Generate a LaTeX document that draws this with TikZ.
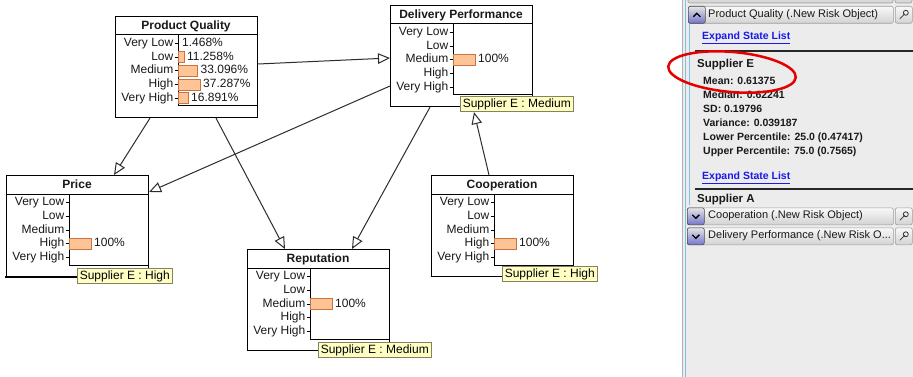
\documentclass[tikz,border=0pt]{standalone}
\usepackage{fontspec}
\setmainfont{Liberation Sans}
\usetikzlibrary{arrows.meta,calc}
\definecolor{barfill}{RGB}{255,196,150}
\definecolor{bardraw}{RGB}{200,115,65}
\definecolor{tipfill}{RGB}{255,255,196}
\definecolor{tipdraw}{RGB}{130,130,95}
\definecolor{panelbg}{RGB}{236,236,236}
\definecolor{linkblue}{RGB}{25,25,235}
\definecolor{edgecol}{RGB}{45,45,45}
\definecolor{panelblue}{RGB}{125,195,228}
\definecolor{txtdark}{RGB}{25,25,25}
\tikzset{
 box/.style={draw=black, line width=1.1pt, fill=white, minimum width=142pt, minimum height=101pt, inner sep=0pt, anchor=north west},
 boxline/.style={draw=black, line width=1pt},
 titletxt/.style={font=\fontsize{12}{14}\selectfont\bfseries, inner sep=0pt, text=txtdark, text height=9pt, text depth=2.5pt},
 statetxt/.style={font=\fontsize{12}{14}\selectfont, inner sep=0pt, anchor=east, text=txtdark, text height=8.7pt, text depth=2.5pt},
 pcttxt/.style={font=\fontsize{12}{14}\selectfont, inner sep=0pt, anchor=west, text=txtdark, text height=8.7pt, text depth=2.5pt},
 barbox/.style={fill=barfill, draw=bardraw, line width=0.8pt},
 tickline/.style={draw=black, line width=0.8pt},
 tiplabel/.style={fill=tipfill, draw=tipdraw, line width=0.6pt, font=\fontsize{12}{14}\selectfont, inner xsep=2.5pt, inner ysep=0pt, minimum height=15pt, anchor=north west, text height=9pt, text depth=2.5pt},
 link/.style={draw=edgecol, line width=1pt, -{Triangle[open, length=12pt, width=10.5pt, fill=white]}},
 headbar/.style={draw=gray!75, rounded corners=2pt, top color=white!95!gray, bottom color=gray!35, line width=0.6pt},
 headbtn/.style={draw=gray!60!black, rounded corners=2pt, top color=gray!20, bottom color=gray!55!blue!75!white, line width=0.6pt},
 headtxt/.style={font=\fontsize{11}{13}\selectfont, inner sep=0pt, anchor=west, text=txtdark},
 paneltxt/.style={font=\fontsize{10.5}{12}\selectfont\bfseries, inner sep=0pt, anchor=west, text=txtdark},
 linktxt/.style={font=\fontsize{10.5}{12}\selectfont\bfseries, inner sep=0pt, anchor=west, text=linkblue},
}
\newcommand{\bnframe}[2]{%
 \begin{scope}[shift={(#1.north west)}]
  \node[titletxt] at (71,10) {#2};
  \draw[boxline] (0,19) -- (142,19);
  \draw[boxline] (63,19) -- (63,90) -- (142,90);
  \foreach \s [count=\i from 0] in {Very Low,Low,Medium,High,Very High} {
    \node[statetxt] at (58.5,{27.5+13.7*\i}) {\s};
    \draw[tickline] (59.5,{27.5+13.7*\i}) -- (63,{27.5+13.7*\i});
  }
 \end{scope}}
\newcommand{\bnbar}[4]{%
 \begin{scope}[shift={(#1.north west)}]
  \draw[barbox] (63,{27.5+13.7*#2-5.5}) rectangle ++(#3,11);
  \node[pcttxt] at ({63+#3+3},{27.5+13.7*#2}) {#4};
 \end{scope}}
\begin{document}
\begin{tikzpicture}[x=1pt,y=-1pt]
\useasboundingbox (0,0) rectangle (913,377);
\fill[white] (0,0) rectangle (913,377);

% ---------- network nodes ----------
\node[box] (pq) at (115,16) {};
\node[box] (del) at (390,5) {};
\node[box] (price) at (6,175) {};
\node[box] (rep) at (247,249) {};
\node[box] (coop) at (431,175) {};

% ---------- connectors ----------
\draw[link] ($(pq.north east)+(0,48)$) -- ($(del.north west)+(0,53)$);
\draw[link] ($(pq.south west)+(35,0)$) -- ($(price.north west)+(108,0)$);
\draw[link] ($(pq.south west)+(101,0)$) -- ($(rep.north west)+(38,0)$);
\draw[link] ($(del.north west)+(0,81)$) -- ($(price.north east)+(0,17)$);
\draw[link] ($(del.south west)+(40,0)$) -- ($(rep.north west)+(105,0)$);

% redraw boxes above connectors
\node[box] at (pq.north west) {};
\node[box] at (del.north west) {};
\node[box] at (price.north west) {};
\node[box] at (rep.north west) {};
\node[box] at (coop.north west) {};
\draw[black, line width=2.6pt] ($(price.south west)+(-1,0)$) -- ($(price.south east)+(0,0)$);

\bnframe{pq}{Product Quality}
\bnframe{del}{Delivery Performance}
\bnframe{price}{Price}
\bnframe{rep}{Reputation}
\bnframe{coop}{Cooperation}

\begin{scope}[shift={(pq.north west)}]
  \node[pcttxt] at (67,27.5) {1.468\%};
\end{scope}
\bnbar{pq}{1}{6}{11.258\%}
\bnbar{pq}{2}{19.5}{33.096\%}
\bnbar{pq}{3}{22}{37.287\%}
\bnbar{pq}{4}{10}{16.891\%}
\bnbar{del}{2}{22}{100\%}
\bnbar{price}{3}{22}{100\%}
\bnbar{rep}{2}{22}{100\%}
\bnbar{coop}{3}{22}{100\%}

\node[tiplabel] (dlab) at ($(del.north west)+(70,91)$) {Supplier E : Medium};
\node[tiplabel] (plab) at ($(price.north west)+(71,93)$) {Supplier E : High};
\node[tiplabel] (rlab) at ($(rep.north west)+(71,93)$) {Supplier E : Medium};
\node[tiplabel] (clab) at ($(coop.north west)+(71,91)$) {Supplier E : High};

\draw[link] ($(coop.north west)+(58,0)$) -- ($(dlab.south west)+(14,0.5)$);

% ---------- right panel ----------
\fill[panelbg] (682,0) rectangle (913,377);
\draw[gray!60, line width=0.8pt] (682,0) -- (682,377);
\draw[panelblue, line width=1pt] (685.5,0) -- (685.5,377);
\draw[panelblue, line width=1pt] (689,23) -- (689,205);

% partial header at top
\draw[headbar] (688,-14) rectangle (893,3);
\draw[headbar] (895,-14) rectangle (912,3);

% Product Quality header
\node[headbar, anchor=north west, minimum width=205pt, minimum height=17pt, inner sep=0pt] (hpq) at (688,6) {};
\node[headbtn, anchor=north west, minimum width=17pt, minimum height=17pt, inner sep=0pt] (bpq) at (688,6) {};
\draw[black, line width=1.3pt] ($(bpq.center)+(-3.5,2)$) -- ($(bpq.center)+(0,-1.5)$) -- ($(bpq.center)+(3.5,2)$);
\node[headtxt] at (708,14.5) {Product Quality (.New Risk Object)};
\node[headbar, anchor=north west, minimum width=17pt, minimum height=17pt, inner sep=0pt] (ipq) at (895,6) {};
\draw[gray!40!black, line width=0.8pt] ($(ipq.center)+(-4,4)$) -- ($(ipq.center)+(1,-1)$);
\draw[gray!40!black, line width=0.8pt] ($(ipq.center)+(2,-2)$) circle (2.5);

\node[linktxt] (l1) at (702,38) {\underline{Expand State List}};
\draw[gray!30!black, line width=1.5pt] (695,51) -- (913,51);
\node[paneltxt, font=\fontsize{11.5}{13}\selectfont\bfseries] at (697,65) {Supplier E};
\node[paneltxt] at (703,81) {Mean: 0.61375};
\node[paneltxt] at (703,95) {Median: 0.62241};
\node[paneltxt] at (703,109) {SD: 0.19796};
\node[paneltxt] at (703,123) {Variance: 0.039187};
\node[paneltxt] at (703,138) {Lower Percentile: 25.0 (0.47417)};
\node[paneltxt] at (703,152) {Upper Percentile: 75.0 (0.7565)};
\node[linktxt] (l2) at (702,178) {\underline{Expand State List}};
\draw[gray!30!black, line width=1.5pt] (695,189) -- (913,189);
\node[paneltxt, font=\fontsize{11.5}{13}\selectfont\bfseries] at (697,200) {Supplier A};

% Cooperation header
\node[headbar, anchor=north west, minimum width=206pt, minimum height=17pt, inner sep=0pt] (hco) at (687,207.5) {};
\node[headbtn, anchor=north west, minimum width=17pt, minimum height=17pt, inner sep=0pt] (bco) at (687,207.5) {};
\draw[black, line width=1.3pt] ($(bco.center)+(-3.5,-1.5)$) -- ($(bco.center)+(0,2)$) -- ($(bco.center)+(3.5,-1.5)$);
\node[headtxt] at (708,216) {Cooperation (.New Risk Object)};
\node[headbar, anchor=north west, minimum width=17pt, minimum height=17pt, inner sep=0pt] (ico) at (895,207.5) {};
\draw[gray!40!black, line width=0.8pt] ($(ico.center)+(-4,4)$) -- ($(ico.center)+(1,-1)$);
\draw[gray!40!black, line width=0.8pt] ($(ico.center)+(2,-2)$) circle (2.5);

% Delivery Performance header
\node[headbar, anchor=north west, minimum width=206pt, minimum height=17pt, inner sep=0pt] (hde) at (687,227.5) {};
\node[headbtn, anchor=north west, minimum width=17pt, minimum height=17pt, inner sep=0pt] (bde) at (687,227.5) {};
\draw[black, line width=1.3pt] ($(bde.center)+(-3.5,-1.5)$) -- ($(bde.center)+(0,2)$) -- ($(bde.center)+(3.5,-1.5)$);
\node[headtxt] at (708,236) {Delivery Performance (.New Risk O...};
\node[headbar, anchor=north west, minimum width=17pt, minimum height=17pt, inner sep=0pt] (ide) at (895,227.5) {};
\draw[gray!40!black, line width=0.8pt] ($(ide.center)+(-4,4)$) -- ($(ide.center)+(1,-1)$);
\draw[gray!40!black, line width=0.8pt] ($(ide.center)+(2,-2)$) circle (2.5);

% red highlight ellipse
\draw[red!90!black, line width=2.5pt, rotate around={-5:(732,72)}] (732,72) ellipse [x radius=64, y radius=20];
\end{tikzpicture}
\end{document}
